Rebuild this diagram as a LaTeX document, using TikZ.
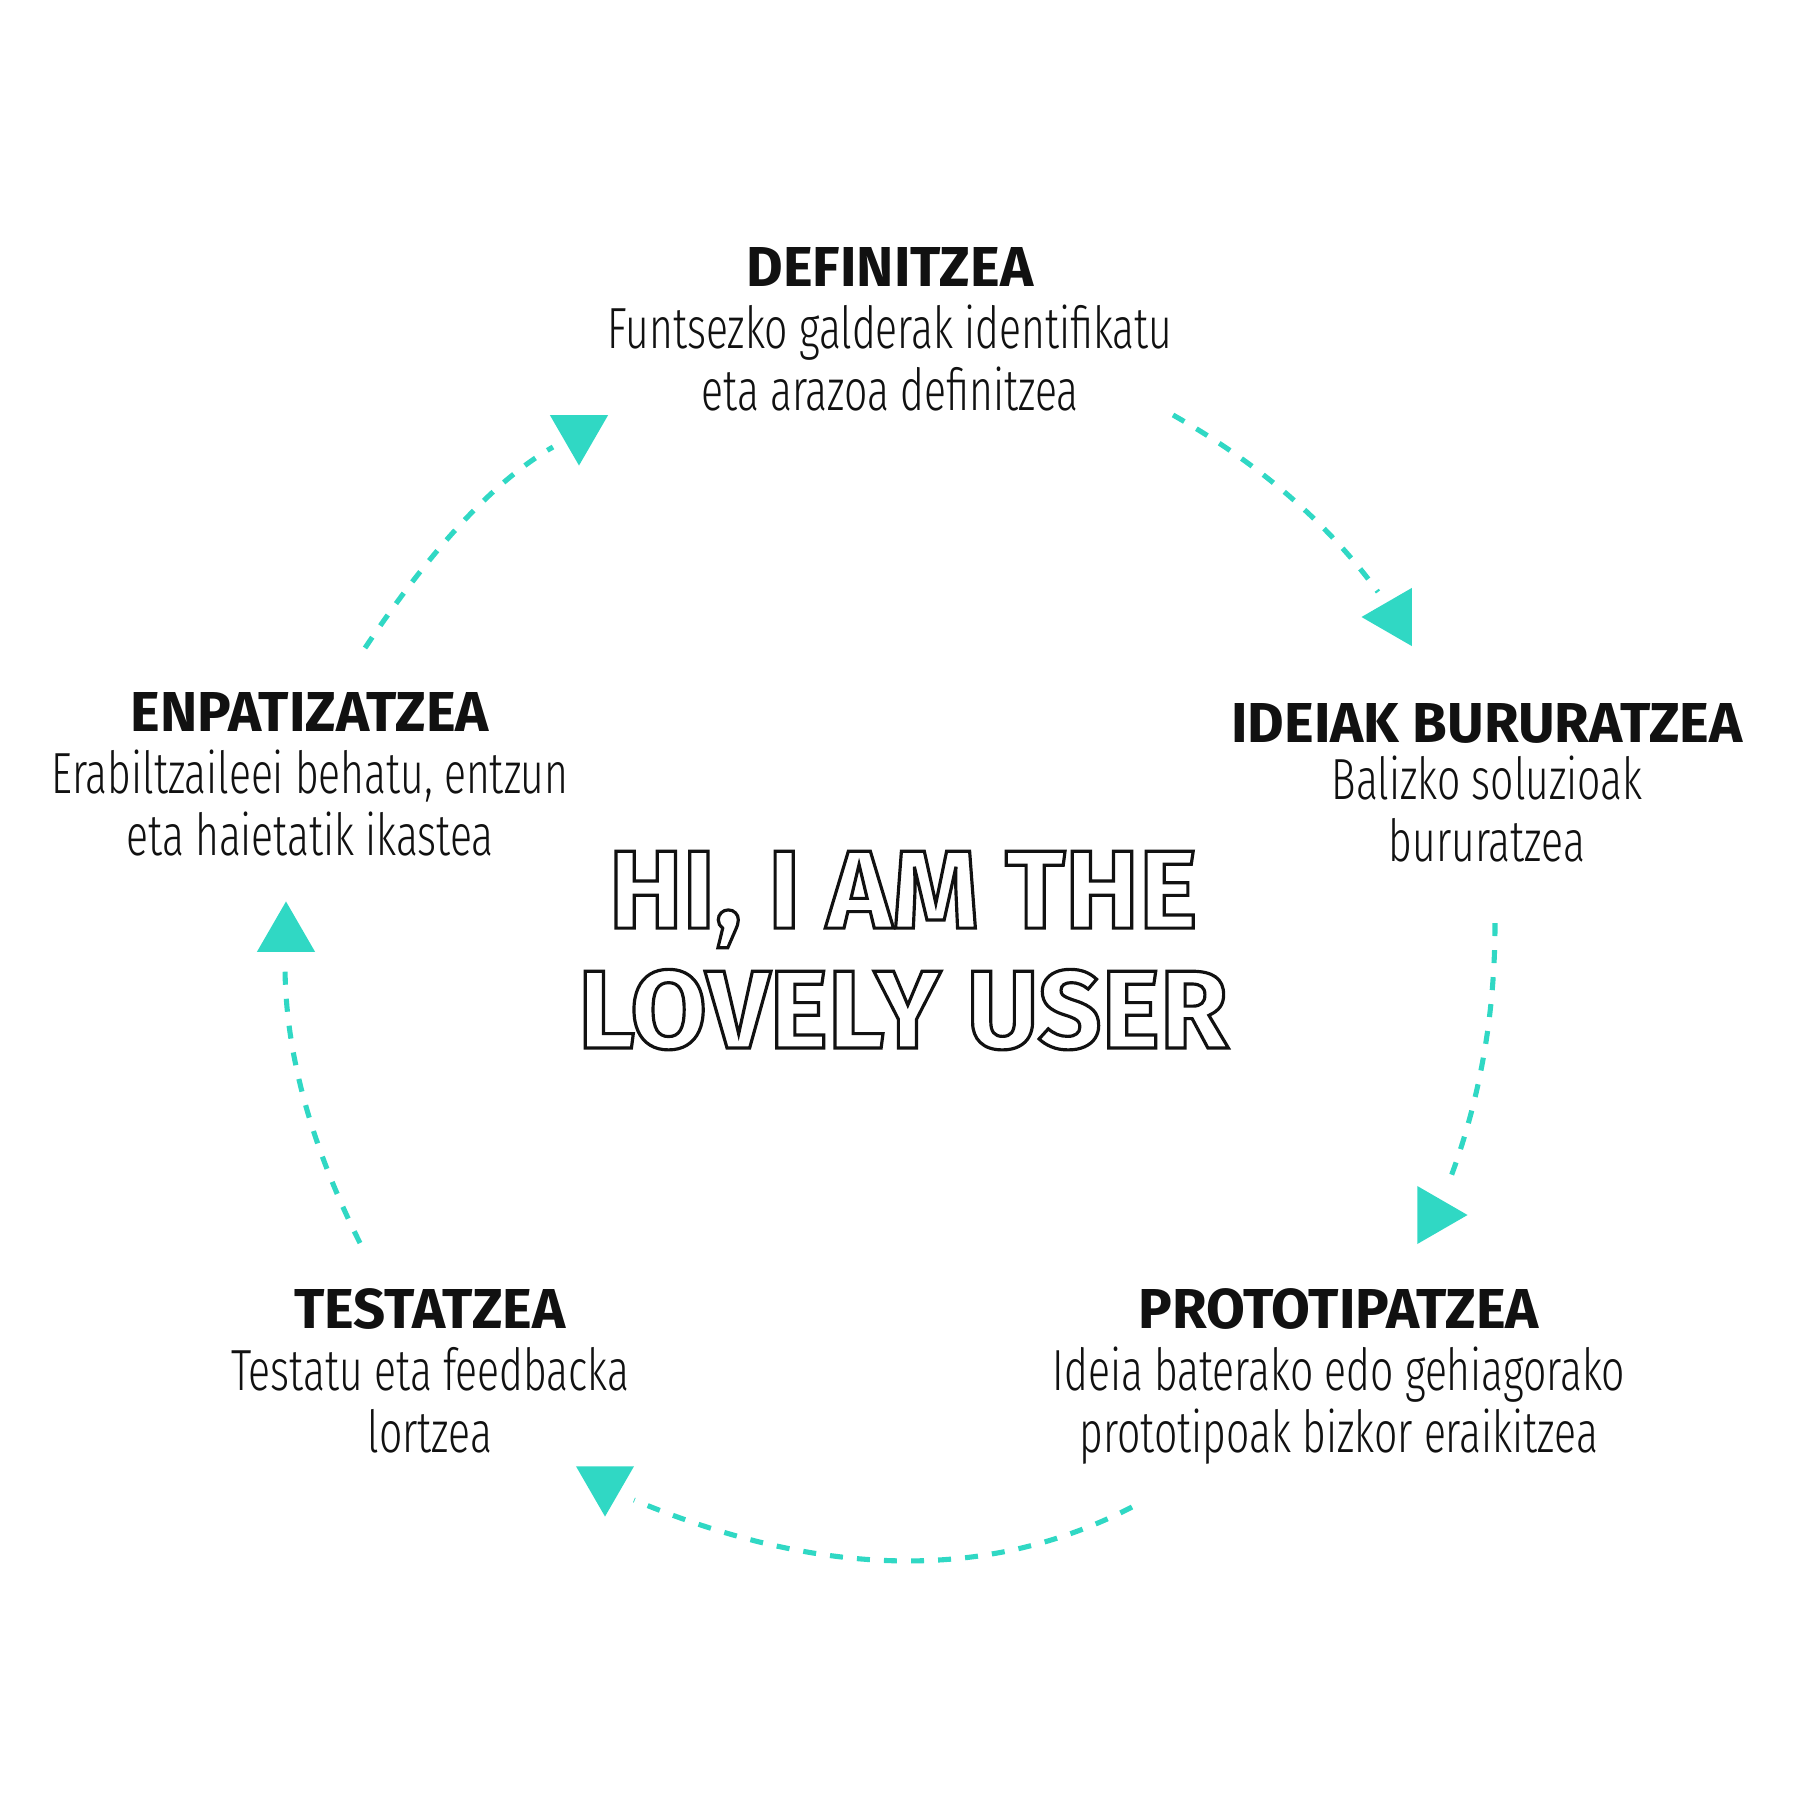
\documentclass[tikz,border=0pt]{standalone}
\usepackage{fontspec}
\usetikzlibrary{shapes.geometric}
\definecolor{cyaqua}{HTML}{30D8C4}
\definecolor{cyink}{HTML}{111111}
\IfFontExistsTF{Fira Sans Heavy}{\newfontfamily\headfam{Fira Sans Heavy}}{%
	\IfFontExistsTF{Fira Sans Black}{\newfontfamily\headfam{Fira Sans Black}}{%
		\newfontfamily\headfam{Fira Sans}}}
\IfFontExistsTF{Fira Sans Condensed Light}{\newfontfamily\descfam{Fira Sans Condensed Light}[FakeStretch=0.78]}{%
	\IfFontExistsTF{Fira Sans Light}{\newfontfamily\descfam{Fira Sans Light}[FakeStretch=0.65]}{%
		\newfontfamily\descfam{Fira Sans}[FakeStretch=0.65]}}
\newcommand{\headfont}{\headfam\bfseries}
\newcommand{\hollowtext}[1]{\special{pdf:literal direct 1 Tr 0.9 w}#1\special{pdf:literal direct 0 Tr}}
\tikzset{
	stagehead/.style={anchor=base, inner sep=0pt, text=cyink, font=\headfont\fontsize{16}{19}\selectfont},
	stagedesc/.style={anchor=base, inner sep=0pt, align=center, text=cyink, font=\descfam\fontsize{16.5}{17.4}\selectfont},
	cyclearr/.style={draw=cyaqua, line width=1.45pt, dash pattern=on 3.7pt off 4pt},
	arrtip/.style={regular polygon, regular polygon sides=3, fill=cyaqua, inner sep=0pt, minimum size=0.67cm}
}

\begin{document}
\begin{tikzpicture}[x=0.01cm, y=-0.01cm]
	\useasboundingbox (0,0) rectangle (1800,1800);
	\node[stagehead] (defh) at (890,287) {DEFINITZEA};
	\node[stagedesc] (defd) at (890,410) {Funtsezko galderak identifikatu\\eta arazoa definitzea};
	\node[stagehead] (ideh) at (1487,742) {IDEIAK BURURATZEA};
	\node[stagedesc] (ided) at (1487,861) {Balizko soluzioak\\bururatzea};
	\node[stagehead] (proh) at (1339,1328) {PROTOTIPATZEA};
	\node[stagedesc] (prod) at (1339,1452) {Ideia baterako edo gehiagorako\\prototipoak bizkor eraikitzea};
	\node[stagehead] (tesh) at (430,1328) {TESTATZEA};
	\node[stagedesc] (tesd) at (430,1452) {Testatu eta feedbacka\\lortzea};
	\node[stagehead] (emph) at (310,731) {ENPATIZATZEA};
	\node[stagedesc] (empd) at (310,855) {Erabiltzaileei behatu, entzun\\eta haietatik ikastea};
	\node[anchor=base, inner sep=0pt, align=center, text=cyink, font=\headfont\fontsize{31.5}{34.1}\selectfont] (user) at (903,1048) {\hollowtext{HI, I AM THE}\\\hollowtext{LOVELY USER}};

	\coordinate (emp-o) at (365,648);
	\coordinate (def-i) at (553,447);
	\coordinate (def-o) at (1173,415);
	\coordinate (ide-i) at (1378,592);
	\coordinate (ide-o) at (1495,923);
	\coordinate (pro-i) at (1447,1187);
	\coordinate (pro-o) at (1132,1507);
	\coordinate (tes-i) at (634,1500);
	\coordinate (tes-o) at (360,1243);
	\coordinate (emp-i) at (285,965);

	\draw[cyclearr] (emp-o) .. controls (432,548) and (494,481) .. (def-i);
	\draw[cyclearr] (def-o) .. controls (1258,463) and (1327,522) .. (ide-i);
	\draw[cyclearr] (ide-o) .. controls (1495,1017) and (1479,1105) .. (pro-i);
	\draw[cyclearr] (pro-o) .. controls (989,1581) and (823,1579) .. (tes-i);
	\draw[cyclearr] (tes-o) .. controls (310,1143) and (285,1050) .. (emp-i);

	\node[arrtip, shape border rotate=180] (tipdef) at (579,432) {};
	\node[arrtip, shape border rotate=90] (tipide) at (1395,617) {};
	\node[arrtip, shape border rotate=270] (tippro) at (1434,1215) {};
	\node[arrtip, shape border rotate=180] (tiptes) at (605,1483) {};
	\node[arrtip] (tipemp) at (286,935) {};
\end{tikzpicture}
\end{document}
